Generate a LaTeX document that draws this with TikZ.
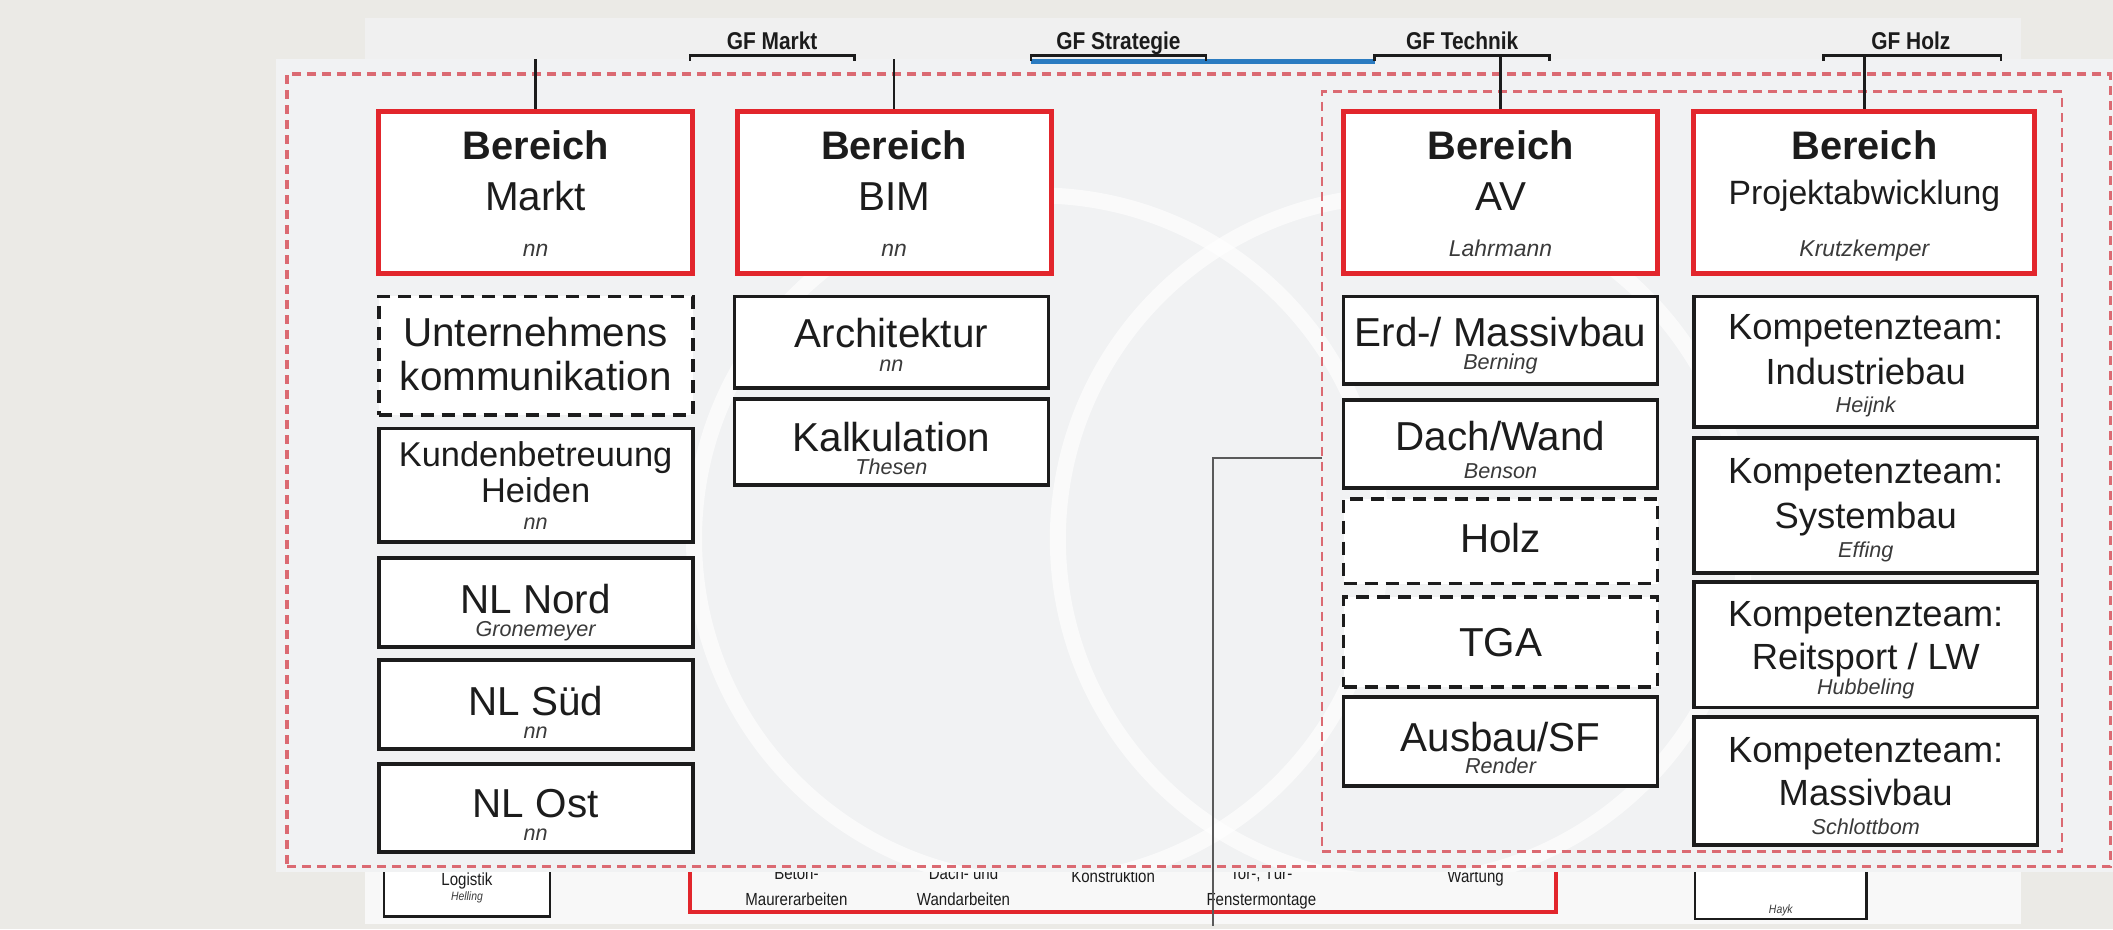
\documentclass[tikz,border=0pt]{standalone}
\usepackage{fontspec}
\setmainfont{Liberation Sans}
\newfontfamily\narrowfont[FakeStretch=0.86]{Liberation Sans}
\definecolor{bg}{HTML}{EBEAE6}
\definecolor{panel}{HTML}{F0F0F0}
\definecolor{panelb}{HTML}{F1F2F3}
\definecolor{strip}{HTML}{F8F8F8}
\definecolor{bred}{HTML}{E2262C}
\definecolor{dred}{HTML}{DB6A72}
\definecolor{ink}{HTML}{1C1C1C}
\definecolor{nameink}{HTML}{3A3A3A}
\definecolor{gfblue}{HTML}{2B7CC1}
\definecolor{conn}{HTML}{5A5A5A}
\newcommand\obox[6]{\node[#2, minimum width={(#5-#3)*1.3476pt}, minimum height={(#6-#4)*1.3476pt}] (#1) at ({(#3+#5)/2},{(#4+#6)/2}) {};}
\tikzset{
  redbox/.style={draw=bred, fill=white, line width=5pt, inner sep=0pt},
  blkbox/.style={draw=ink, fill=white, line width=3.8pt, inner sep=0pt},
  dashbox/.style={draw=ink, fill=white, line width=3.8pt, dash pattern=on 13pt off 8pt, inner sep=0pt},
  smallbox/.style={draw=ink, fill=white, line width=2.4pt, inner sep=0pt},
  outerdash/.style={draw=dred, line width=3.6pt, dash pattern=on 9pt off 6pt, inner sep=0pt},
  innerdash/.style={draw=dred, line width=2.6pt, dash pattern=on 9pt off 6pt, inner sep=0pt},
  tx/.style={anchor=base, inner sep=0pt, text=ink},
  tBig/.style={tx, font=\fontsize{40.4}{48}\selectfont},
  tHead/.style={tx, font=\fontsize{39.8}{48}\selectfont\bfseries},
  tMid/.style={tx, font=\fontsize{36.4}{44}\selectfont},
  tKb/.style={tx, font=\fontsize{34.4}{42}\selectfont},
  tProj/.style={tx, font=\fontsize{33.7}{40}\selectfont},
  tWho/.style={tx, text=nameink, font=\fontsize{21.6}{26}\selectfont\itshape},
  tWhoB/.style={tx, text=nameink, font=\fontsize{22.9}{28}\selectfont\itshape},
  tGf/.style={tx, font=\narrowfont\fontsize{24.3}{28}\selectfont\bfseries},
  tSmall/.style={tx, font=\narrowfont\fontsize{17.5}{20}\selectfont},
  tTiny/.style={tx, text=nameink, font=\narrowfont\fontsize{12.1}{14}\selectfont\itshape},
  gfline/.style={draw=ink, line width=2.6pt},
  conline/.style={draw=ink, line width=2.4pt},
}
\begin{document}
\begin{tikzpicture}[x=1.3476pt,y=-1.3476pt]
\useasboundingbox (0,0) rectangle (1568,689.4);
\fill[bg] (0,0) rectangle (1568,689.4);
\fill[panel] (271,13) rectangle (1500,647);
\fill[strip] (271,645) rectangle (1500,686);

% bottom strip
\obox{logistik}{smallbox}{285}{630}{408}{680}
\node[tSmall] (logt) at (346.5,657) {Logistik};
\node[tTiny] (logn) at (346.5,668) {Helling};
\obox{hayk}{smallbox}{1258}{630}{1385}{682}
\node[tTiny] (haykn) at (1321.5,678) {Hayk};
\coordinate (rb1) at (512,640);
\coordinate (rb2) at (1155,640);
\coordinate (rb3) at (833,677);
\draw[bred, line width=4pt] (rb1) |- (rb3) -| (rb2);
\node[tSmall] (bt1) at (591,653) {Beton-};
\node[tSmall] (bt2) at (591,672) {Maurerarbeiten};
\node[tSmall] (dw1) at (715,653) {Dach- und};
\node[tSmall] (dw2) at (715,672) {Wandarbeiten};
\node[tSmall] (ko) at (826,655) {Konstruktion};
\node[tSmall] (tt1) at (936,653) {Tor-, Tür-};
\node[tSmall] (tt2) at (936,672) {Fenstermontage};
\node[tSmall] (wa) at (1095,655) {Wartung};

% upper panel
\fill[panelb] (205,44) rectangle (1568,647);
\begin{scope}
\clip (205,44) rectangle (1568,647);
\draw[white, line width=16pt, opacity=.65] (770,400) circle (255);
\draw[white, line width=16pt, opacity=.65] (1040,400) circle (255);
\end{scope}
\obox{outer}{outerdash}{213}{55}{1566}{643}
\obox{inner}{innerdash}{981}{68}{1530}{632}

% gray connector
\coordinate (cgA) at (981,340);
\coordinate (cgB) at (900,687);
\draw[conn, line width=2.6pt] (cgA) -| (cgB);

% Bereich boxes
\obox{markt}{redbox}{281}{83}{514}{203}
\obox{bim}{redbox}{547}{83}{780}{203}
\obox{av}{redbox}{997}{83}{1230}{203}
\obox{proj}{redbox}{1257}{83}{1510}{203}
\node[tHead] (markt1) at (397.5,118) {Bereich};
\node[tBig] (markt2) at (397.5,156) {Markt};
\node[tWhoB] (markt3) at (397.5,190) {nn};
\node[tHead] (bim1) at (663.5,118) {Bereich};
\node[tBig] (bim2) at (663.5,156) {BIM};
\node[tWhoB] (bim3) at (663.5,190) {nn};
\node[tHead] (av1) at (1113.5,118) {Bereich};
\node[tBig] (av2) at (1113.5,156) {AV};
\node[tWhoB] (av3) at (1113.5,190) {Lahrmann};
\node[tHead] (proj1) at (1383.5,118) {Bereich};
\node[tProj] (proj2) at (1383.5,152) {Projektabwicklung};
\node[tWhoB] (proj3) at (1383.5,190) {Krutzkemper};

% Markt column
\obox{uk}{dashbox}{281}{220}{514}{308}
\node[tBig] (uk1) at (397.5,257) {Unternehmens};
\node[tBig] (uk2) at (397.5,290) {kommunikation};
\obox{kb}{blkbox}{281}{318}{514}{402}
\node[tKb] (kb1) at (397.5,346) {Kundenbetreuung};
\node[tKb] (kb2) at (397.5,373) {Heiden};
\node[tWho] (kb3) at (397.5,393) {nn};
\obox{nln}{blkbox}{281}{414}{514}{480}
\node[tBig] (nln1) at (397.5,455) {NL Nord};
\node[tWho] (nln2) at (397.5,472) {Gronemeyer};
\obox{nls}{blkbox}{281}{490}{514}{556}
\node[tBig] (nls1) at (397.5,531) {NL Süd};
\node[tWho] (nls2) at (397.5,548) {nn};
\obox{nlo}{blkbox}{281}{567}{514}{632}
\node[tBig] (nlo1) at (397.5,607) {NL Ost};
\node[tWho] (nlo2) at (397.5,624) {nn};

% BIM column
\obox{arch}{blkbox}{545}{220}{778}{288}
\node[tBig] (arch1) at (661.5,258) {Architektur};
\node[tWho] (arch2) at (661.5,276) {nn};
\obox{kalk}{blkbox}{545}{296}{778}{360}
\node[tBig] (kalk1) at (661.5,335) {Kalkulation};
\node[tWho] (kalk2) at (661.5,352) {Thesen};

% AV column
\obox{erd}{blkbox}{997}{220}{1230}{285}
\node[tBig] (erd1) at (1113.5,257) {Erd-/ Massivbau};
\node[tWho] (erd2) at (1113.5,274) {Berning};
\obox{dach}{blkbox}{997}{297}{1230}{362}
\node[tBig] (dach1) at (1113.5,334) {Dach/Wand};
\node[tWho] (dach2) at (1113.5,355) {Benson};
\obox{holz}{dashbox}{997}{370}{1230}{433}
\node[tBig] (holz1) at (1113.5,410) {Holz};
\obox{tga}{dashbox}{997}{443}{1230}{510}
\node[tBig] (tga1) at (1113.5,487) {TGA};
\obox{ausbau}{blkbox}{997}{517}{1230}{583}
\node[tBig] (ausbau1) at (1113.5,558) {Ausbau/SF};
\node[tWho] (ausbau2) at (1113.5,574) {Render};

% Projekt column
\obox{k1}{blkbox}{1257}{220}{1512}{317}
\node[tMid] (k1a) at (1384.5,252) {Kompetenzteam:};
\node[tMid] (k1b) at (1384.5,285) {Industriebau};
\node[tWho] (k1c) at (1384.5,306) {Heijnk};
\obox{k2}{blkbox}{1257}{325}{1512}{425}
\node[tMid] (k2a) at (1384.5,359) {Kompetenzteam:};
\node[tMid] (k2b) at (1384.5,392) {Systembau};
\node[tWho] (k2c) at (1384.5,414) {Effing};
\obox{k3}{blkbox}{1257}{432}{1512}{525}
\node[tMid] (k3a) at (1384.5,465) {Kompetenzteam:};
\node[tMid] (k3b) at (1384.5,497) {Reitsport / LW};
\node[tWho] (k3c) at (1384.5,515) {Hubbeling};
\obox{k4}{blkbox}{1257}{532}{1512}{627}
\node[tMid] (k4a) at (1384.5,566) {Kompetenzteam:};
\node[tMid] (k4b) at (1384.5,598) {Massivbau};
\node[tWho] (k4c) at (1384.5,619) {Schlottbom};

% GF labels
\node[tGf] (gfm) at (573,37) {GF Markt};
\node[tGf] (gfs) at (830,37) {GF Strategie};
\node[tGf] (gft) at (1085,37) {GF Technik};
\node[tGf] (gfh) at (1418,37) {GF Holz};
\draw[gfblue, line width=5pt] (765,45.5) -- (1020,45.5);
\draw[gfline] (512,45) -- (512,41) -- (634,41) -- (634,45);
\draw[gfline] (765,45) -- (765,41) -- (895,41) -- (895,45);
\draw[gfline] (1020,45) -- (1020,41) -- (1150,41) -- (1150,45);
\draw[gfline] (1353,45) -- (1353,41) -- (1485,41) -- (1485,45);

% vertical connectors
\coordinate (vm) at (397.5,44);
\coordinate (vb) at (663.5,44);
\coordinate (vt) at (1113.5,41);
\coordinate (vh) at (1383.5,41);
\draw[conline] (vm) -- (markt.north);
\draw[conline] (vb) -- (bim.north);
\draw[conline] (vt) -- (av.north);
\draw[conline] (vh) -- (proj.north);
\end{tikzpicture}
\end{document}
